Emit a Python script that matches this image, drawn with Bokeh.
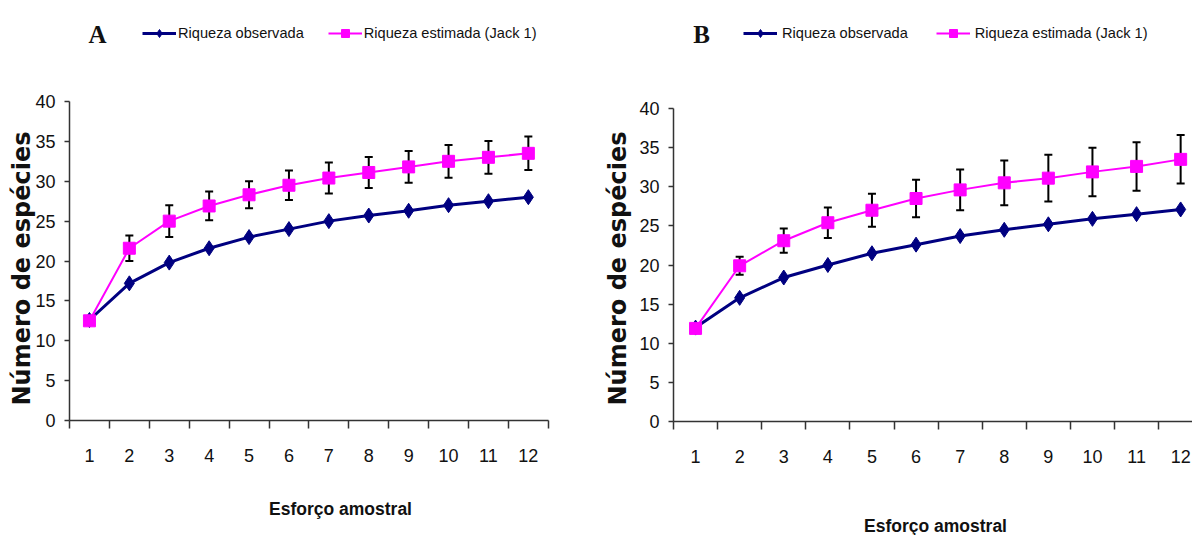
import math
from bokeh.plotting import figure
from bokeh.models import (FixedTicker, Whisker, TeeHead, ColumnDataSource, Legend,
                          LegendItem, Label, Range1d)
from bokeh.layouts import row
from bokeh.embed import file_html
from bokeh.resources import INLINE

# ---------------- data ----------------
esforco = [1, 2, 3, 4, 5, 6, 7, 8, 9, 10, 11, 12]
x_tick_labels = ["1", "2", "3", "4", "5", "6", "7", "8", "9", "10", "11", "12"]
y_ticks = [0, 5, 10, 15, 20, 25, 30, 35, 40]

serie_obs = "Riqueza observada"
serie_est = "Riqueza estimada (Jack 1)"
x_title = "Esforço amostral"
y_title = "Número de espécies"

A_obs = [12.6, 17.2, 19.8, 21.6, 23.0, 24.0, 25.0, 25.7, 26.3, 27.0, 27.5, 28.0]
A_est = [12.5, 21.6, 25.0, 26.9, 28.3, 29.5, 30.4, 31.1, 31.8, 32.5, 33.0, 33.5]
A_err = [0.0, 1.6, 2.0, 1.8, 1.7, 1.85, 1.95, 1.95, 2.0, 2.05, 2.05, 2.1]

B_obs = [12.0, 15.8, 18.4, 20.0, 21.5, 22.6, 23.7, 24.5, 25.2, 25.9, 26.5, 27.1]
B_est = [11.9, 19.9, 23.1, 25.4, 27.0, 28.5, 29.6, 30.5, 31.1, 31.9, 32.6, 33.5]
B_err = [0.0, 1.15, 1.55, 1.95, 2.1, 2.4, 2.6, 2.85, 3.0, 3.1, 3.1, 3.1]

NAVY = "#000080"
PINK = "#FF00FF"
SANS = "Liberation Sans"
INK = "#111111"
AXIS = "#333333"


def panel(letter, obs, est, err, width, height, x_rng, y_rng, legend_xy, letter_xy,
          ytitle_xy, xtitle_xy, legend_spacing, legend_standoff):
    p = figure(width=width, height=height, output_backend="svg",
               toolbar_location=None, x_range=Range1d(*x_rng), y_range=Range1d(*y_rng),
               min_border=0, min_border_left=0, min_border_right=0,
               min_border_top=0, min_border_bottom=0)
    p.outline_line_color = None
    p.xgrid.visible = False
    p.ygrid.visible = False
    p.background_fill_color = "white"
    p.border_fill_color = "white"

    upper = [e + d for e, d in zip(est, err)]
    lower = [e - d for e, d in zip(est, err)]
    src = ColumnDataSource(dict(x=esforco, obs=obs, est=est, upper=upper, lower=lower))

    # error bars
    wh = Whisker(source=src, base="x", upper="upper", lower="lower",
                 line_color="black", line_width=2, level="underlay",
                 upper_head=TeeHead(size=8, line_width=2, line_color="black"),
                 lower_head=TeeHead(size=8, line_width=2, line_color="black"))
    p.add_layout(wh)

    l_obs = p.line("x", "obs", source=src, line_color=NAVY, line_width=3)
    m_obs = p.scatter("x", "obs", source=src, marker="diamond", size=15,
                      fill_color=NAVY, line_color=NAVY)
    l_est = p.line("x", "est", source=src, line_color=PINK, line_width=2)
    m_est = p.scatter("x", "est", source=src, marker="square", size=12,
                      fill_color=PINK, line_color=PINK)

    # x axis: at y = 0, labels at category centres, ticks between categories
    xa = p.xaxis[0]
    xa.fixed_location = 0
    xa.bounds = (0.5, 12.5)
    xa.ticker = FixedTicker(ticks=esforco,
                            minor_ticks=[i + 0.5 for i in [0] + esforco])
    xa.major_label_overrides = {i: s for i, s in zip(esforco, x_tick_labels)}
    xa.major_tick_out = 0
    xa.major_tick_in = 0
    xa.minor_tick_out = 8
    xa.minor_tick_in = 0
    xa.minor_tick_line_color = AXIS
    xa.minor_tick_line_width = 1.5
    xa.axis_line_color = AXIS
    xa.axis_line_width = 1.5
    xa.major_label_text_font = SANS
    xa.major_label_text_font_size = "18px"
    xa.major_label_text_color = INK
    xa.major_label_standoff = 20

    # y axis: at the left edge of the first category
    ya = p.yaxis[0]
    ya.fixed_location = 0.5
    ya.bounds = (0, 40)
    ya.ticker = FixedTicker(ticks=y_ticks)
    ya.minor_tick_line_color = None
    ya.major_tick_out = 5
    ya.major_tick_in = 0
    ya.major_tick_line_color = AXIS
    ya.major_tick_line_width = 1.5
    ya.axis_line_color = AXIS
    ya.axis_line_width = 1.5
    ya.major_label_text_font = SANS
    ya.major_label_text_font_size = "18px"
    ya.major_label_text_color = INK
    ya.major_label_standoff = 9

    legend = Legend(items=[LegendItem(label=serie_obs, renderers=[l_obs, m_obs]),
                           LegendItem(label=serie_est, renderers=[l_est, m_est])],
                    orientation="horizontal", location=legend_xy,
                    padding=0, margin=0, spacing=legend_spacing,
                    label_standoff=legend_standoff, glyph_width=34, glyph_height=20,
                    border_line_color=None, background_fill_alpha=0,
                    label_text_font=SANS, label_text_font_size="14.6px",
                    label_text_color=INK)
    p.add_layout(legend)

    p.add_layout(Label(x=letter_xy[0], y=letter_xy[1], x_units="screen", y_units="screen",
                       text=letter, text_font="Liberation Serif",
                       text_font_style="bold", text_font_size="25px",
                       text_align="center", text_baseline="middle", text_color=INK))
    p.add_layout(Label(x=ytitle_xy[0], y=ytitle_xy[1], x_units="screen", y_units="screen",
                       text=y_title, angle=math.pi / 2, text_font="DejaVu Sans",
                       text_font_style="bold", text_font_size="24px",
                       text_align="center", text_baseline="middle", text_color=INK))
    p.add_layout(Label(x=xtitle_xy[0], y=xtitle_xy[1], x_units="screen", y_units="screen",
                       text=x_title, text_font=SANS,
                       text_font_style="bold", text_font_size="17.5px",
                       text_align="center", text_baseline="middle", text_color=INK))
    return p


H = 535
# panel A occupies page x 0..600; y axis at x=69 px, 39.9 px per category; value 0 at y=420 px, 7.975 px per unit
sxA, syA = 39.9, 7.975
pA = panel("A", A_obs, A_est, A_err, 600, H,
           (0.5 - 69 / sxA, 0.5 + (600 - 69) / sxA),
           (-(H - 420) / syA, 420 / syA),
           (142, H - 43), (97, H - 34), (21, H - 268), (340, H - 508), 24, 2)
# panel B occupies page x 600..1192; y axis at x=673 px, 44.1 px per category; 0 at y=421, 7.825 px per unit
sxB, syB = 44.1, 7.825
pB = panel("B", B_obs, B_est, B_err, 592, H,
           (0.5 - 73 / sxB, 0.5 + (592 - 73) / sxB),
           (-(H - 421) / syB, 421 / syB),
           (143, H - 43), (101, H - 34), (17, H - 268), (335, H - 525), 28, 5)

layout = row(pA, pB)
open("out.html", "w").write(file_html(layout, INLINE))
